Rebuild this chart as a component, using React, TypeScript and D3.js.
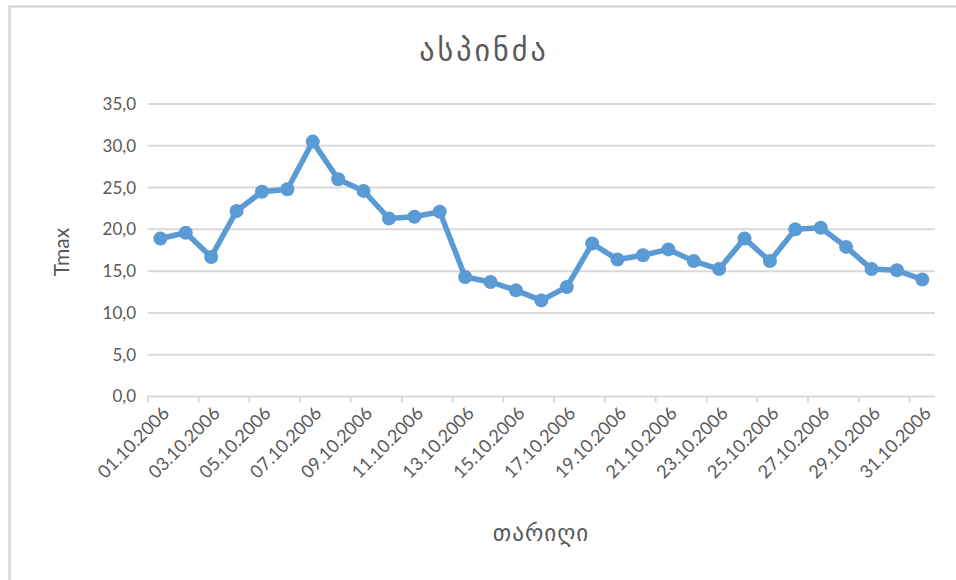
import React from "react";
import * as d3 from "d3";

// Daily maximum temperature, October 2006
const dates: string[] = [
  "01.10.2006", "02.10.2006", "03.10.2006", "04.10.2006", "05.10.2006",
  "06.10.2006", "07.10.2006", "08.10.2006", "09.10.2006", "10.10.2006",
  "11.10.2006", "12.10.2006", "13.10.2006", "14.10.2006", "15.10.2006",
  "16.10.2006", "17.10.2006", "18.10.2006", "19.10.2006", "20.10.2006",
  "21.10.2006", "22.10.2006", "23.10.2006", "24.10.2006", "25.10.2006",
  "26.10.2006", "27.10.2006", "28.10.2006", "29.10.2006", "30.10.2006",
  "31.10.2006",
];

const tmax: number[] = [
  18.9, 19.6, 16.7, 22.2, 24.5, 24.8, 30.5, 26.0, 24.6, 21.3,
  21.5, 22.1, 14.3, 13.7, 12.7, 11.5, 13.1, 18.3, 16.4, 16.9,
  17.6, 16.2, 15.25, 18.9, 16.2, 20.0, 20.2, 17.9, 15.25, 15.1,
  14.0,
];

const yTicks: number[] = [0, 5, 10, 15, 20, 25, 30, 35];

const chartTitle = "ასპინძა";
const yTitle = "Tmax";
const xTitle = "თარიღი";

const W = 956;
const H = 580;
const plot = { left: 147.7, right: 935, top: 104, bottom: 396.5 };

const textColor = "#595959";
const gridColor = "#d9d9d9";
const lineColor = "#5b9bd5";
const latinFont = "Lato, 'Open Sans', sans-serif";
const georgianFont = "'DejaVu Sans', sans-serif";

export default function App() {
  const x = d3
    .scaleBand<string>()
    .domain(dates)
    .range([plot.left, plot.right])
    .paddingInner(0)
    .paddingOuter(0);
  const y = d3.scaleLinear().domain([0, 35]).range([plot.bottom, plot.top]);
  const cx = (d: string) => (x(d) as number) + x.bandwidth() / 2;

  const line = d3
    .line<number>()
    .x((_, i) => cx(dates[i]))
    .y((v) => y(v));

  const fmt = (v: number) => v.toFixed(1).replace(".", ",");

  // tick marks at every second category boundary
  const tickBounds = d3.range(0, dates.length + 1, 2).map(
    (i) => plot.left + i * x.bandwidth()
  );
  const labelled = dates.filter((_, i) => i % 2 === 0);

  return (
    <svg
      width={W}
      height={H}
      style={{ position: "absolute", left: 0, top: 0, background: "#fff" }}
    >
      {/* chart frame */}
      <line x1={9.5} x2={9.5} y1={6} y2={H} stroke={gridColor} strokeWidth={2.5} />
      <line x1={8} x2={W} y1={6.5} y2={6.5} stroke={gridColor} strokeWidth={2.5} />

      <text
        x={484}
        y={61}
        textAnchor="middle"
        fontFamily={georgianFont}
        fontSize={30}
        letterSpacing={3}
        fill={textColor}
      >
        {chartTitle}
      </text>

      {/* horizontal gridlines */}
      {yTicks.map((t) => (
        <line
          key={`g${t}`}
          x1={plot.left}
          x2={plot.right}
          y1={y(t)}
          y2={y(t)}
          stroke={gridColor}
          strokeWidth={2}
        />
      ))}

      {/* y tick labels */}
      {yTicks.map((t) => (
        <text
          key={`yl${t}`}
          x={136}
          y={y(t)}
          dy="0.35em"
          textAnchor="end"
          fontFamily={latinFont}
          fontSize={17}
          fill={textColor}
        >
          {fmt(t)}
        </text>
      ))}

      {/* category tick marks */}
      {tickBounds.map((bx, i) => (
        <line
          key={`t${i}`}
          x1={bx}
          x2={bx}
          y1={plot.bottom}
          y2={plot.bottom + 6}
          stroke={gridColor}
          strokeWidth={2}
        />
      ))}

      {/* x tick labels */}
      {labelled.map((d) => (
        <text
          key={`xl${d}`}
          transform={`translate(${cx(d) + 1},${plot.bottom + 9}) rotate(-45)`}
          textAnchor="end"
          dy="0.7em"
          fontFamily={latinFont}
          fontSize={18}
          fill={textColor}
        >
          {d}
        </text>
      ))}

      {/* axis titles */}
      <text
        transform={`translate(69,252) rotate(-90)`}
        textAnchor="middle"
        fontFamily={latinFont}
        fontSize={21}
        fill={textColor}
      >
        {yTitle}
      </text>
      <text
        x={541}
        y={541}
        textAnchor="middle"
        fontFamily={georgianFont}
        fontSize={23}
        letterSpacing={1}
        fill={textColor}
      >
        {xTitle}
      </text>

      {/* series */}
      <path
        d={line(tmax) || ""}
        fill="none"
        stroke={lineColor}
        strokeWidth={5.5}
        strokeLinejoin="round"
      />
      {tmax.map((v, i) => (
        <circle key={`p${i}`} cx={cx(dates[i])} cy={y(v)} r={7} fill={lineColor} />
      ))}
    </svg>
  );
}
